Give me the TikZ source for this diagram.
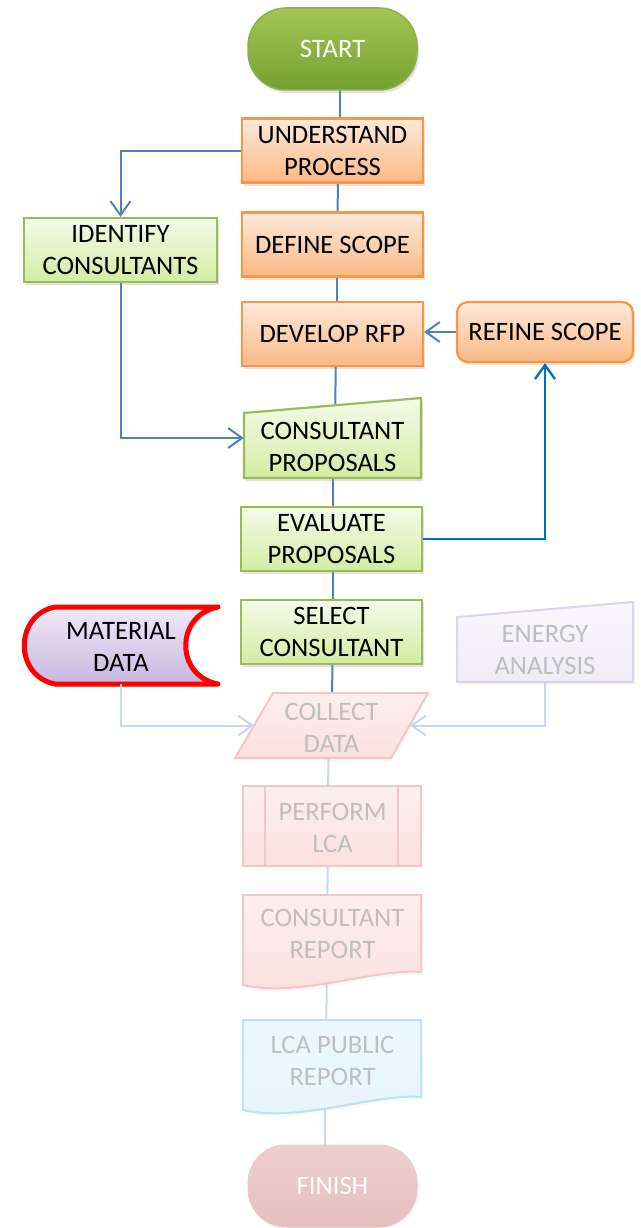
\documentclass[tikz,border=0pt]{standalone}
\usepackage{fontspec}
\setmainfont{Carlito}
\usetikzlibrary{arrows.meta,shadows,calc}
\pgfdeclarelayer{bg}
\pgfsetlayers{bg,main}
\definecolor{oborder}{HTML}{F79646}
\definecolor{otop}{HTML}{FEEADB}
\definecolor{obot}{HTML}{FAB985}
\definecolor{gborder}{HTML}{9BBB59}
\definecolor{gtop}{HTML}{F5FAEA}
\definecolor{gbot}{HTML}{D3EDA3}
\definecolor{stborder}{HTML}{8DB04B}
\definecolor{sttop}{HTML}{A2C653}
\definecolor{stbot}{HTML}{74A033}
\definecolor{cblue}{HTML}{4F81BD}
\definecolor{cdark}{HTML}{0070C0}
\definecolor{cfade}{HTML}{C6D9EE}
\definecolor{mtop}{HTML}{EFEAF7}
\definecolor{mbot}{HTML}{C7B7E0}
\definecolor{ftxt}{HTML}{BFBFBF}
\definecolor{ptop}{HTML}{FDEFEF}
\definecolor{pbot}{HTML}{FBE0DF}
\definecolor{pborder}{HTML}{F0C8C7}
\definecolor{etop}{HTML}{F9F7FC}
\definecolor{ebot}{HTML}{F0ECF7}
\definecolor{eborder}{HTML}{DDD4EE}
\definecolor{btop}{HTML}{EDF8FD}
\definecolor{bbot}{HTML}{E6F5FB}
\definecolor{bborder}{HTML}{BEE2EF}
\definecolor{fitop}{HTML}{EFCECE}
\definecolor{fibot}{HTML}{E6BEBE}
\definecolor{fiborder}{HTML}{EACBCB}
\newcommand\fsz{\fontsize{26.6}{32}\selectfont}
\tikzset{
  base/.style={align=center, font=\fsz, inner sep=0pt},
  shad/.style={drop shadow={opacity=0.22, shadow xshift=2pt, shadow yshift=-3pt}},
  fshad/.style={drop shadow={opacity=0.06, shadow xshift=2pt, shadow yshift=-3pt}},
  obox/.style={base, draw=oborder, line width=2.2pt, top color=otop, bottom color=obot,
    minimum width=181pt, minimum height=64pt, shad},
  gbox/.style={base, draw=gborder, line width=2.2pt, top color=gtop, bottom color=gbot,
    minimum width=181pt, minimum height=64pt, shad},
  gshape/.style={draw=gborder, line width=2.2pt, top color=gtop, bottom color=gbot, shad},
  pshape/.style={draw=pborder, line width=2pt, top color=ptop, bottom color=pbot, fshad},
  anchorbox/.style={inner sep=0pt},
  ftext/.style={base, text=ftxt},
  conn/.style={draw=cblue, line width=2pt},
  arr/.style={conn, -{Straight Barb[length=14pt,width=20pt]}},
  fconn/.style={draw=cfade, line width=2pt},
  farr/.style={fconn, -{Straight Barb[length=14pt,width=20pt]}},
}
\begin{document}
\begin{tikzpicture}[x=1pt,y=-1pt]
\useasboundingbox (0,0) rectangle (640,1228);

% ---- main column
\node[base, draw=stborder, line width=1.5pt, top color=sttop, bottom color=stbot,
  rounded corners=38pt, minimum width=169pt, minimum height=82pt, text=white, shad]
  (start) at (332.5,49) {START};
\node[obox] (understand) at (332.5,150.5) {UNDERSTAND\\PROCESS};
\node[obox] (define) at (332.5,244.5) {DEFINE SCOPE};
\node[obox] (develop) at (332.5,334) {DEVELOP RFP};
\node[obox, rounded corners=11pt, minimum width=176pt, minimum height=60pt]
  (refine) at (545,332) {REFINE SCOPE};
\node[gbox, minimum width=193pt] (identify) at (120.5,250) {IDENTIFY\\CONSULTANTS};

% consultant proposals (manual input)
\path[gshape] (244,413) -- (421,398) -- (421,478) -- (244,478) -- cycle;
\node[anchorbox, minimum width=177pt, minimum height=80pt] (props) at (332.5,438) {};
\node[base] (propsT) at (332.5,447) {CONSULTANT\\PROPOSALS};

\node[gbox] (evaluate) at (331.5,539) {EVALUATE\\PROPOSALS};
\node[gbox] (select) at (331.5,632) {SELECT\\CONSULTANT};

% material data (stored data)
\path[draw=red, line width=5pt, line join=round, line cap=round,
  top color=mtop, bottom color=mbot, shad]
  (55,607) -- (218,607) .. controls (175,615) and (175,676) .. (218,684)
  -- (55,684) .. controls (14,676) and (14,615) .. (55,607) -- cycle;
\node[anchorbox, minimum width=194pt, minimum height=77pt] (material) at (121,645.5) {};
\node[base] (materialT) at (121,647) {MATERIAL\\DATA};

% energy analysis (manual input, faded)
\path[draw=eborder, line width=2pt, top color=etop, bottom color=ebot, fshad]
  (457,617) -- (633,602) -- (633,682) -- (457,682) -- cycle;
\node[anchorbox, minimum width=176pt, minimum height=80pt] (energy) at (545,642) {};
\node[ftext] (energyT) at (545,650) {ENERGY\\ANALYSIS};

% collect data (parallelogram, faded)
\path[pshape] (273,693) -- (428,693) -- (391,758) -- (235,758) -- cycle;
\node[anchorbox, minimum width=156pt, minimum height=65pt] (collect) at (332,725.5) {};
\node[ftext] (collectT) at (331.5,728) {COLLECT\\DATA};

% perform LCA (predefined process, faded)
\node[base, text=ftxt, draw=pborder, line width=2pt, top color=ptop, bottom color=pbot,
  minimum width=178pt, minimum height=80pt, fshad] (perform) at (332,826) {};
\draw[pborder, line width=2pt] (265,787) -- (265,865) (398,787) -- (398,865);
\node[ftext] (performT) at (332.5,828) {PERFORM\\LCA};

% consultant report (document, faded)
\path[pshape] (243,895) -- (421,895) -- (421,972)
  .. controls (375,968) and (300,998) .. (243,985) -- cycle;
\node[anchorbox, minimum width=178pt, minimum height=90pt] (report) at (332,940) {};
\node[ftext] (reportT) at (332.5,934) {CONSULTANT\\REPORT};

% LCA public report (document, faded blue)
\path[draw=bborder, line width=2pt, top color=btop, bottom color=bbot, fshad]
  (243,1020) -- (421,1020) -- (421,1097)
  .. controls (375,1093) and (300,1123) .. (243,1110) -- cycle;
\node[anchorbox, minimum width=178pt, minimum height=90pt] (public) at (332,1065) {};
\node[ftext] (publicT) at (332.5,1060.5) {LCA PUBLIC\\REPORT};

% finish
\node[base, draw=fiborder, line width=1pt, top color=fitop, bottom color=fibot,
  rounded corners=38pt, minimum width=169pt, minimum height=82pt, text=white, fshad]
  (finish) at (332.5,1186) {FINISH};

% ---- plain connectors (behind shapes)
\begin{pgfonlayer}{bg}
\draw[conn] ([xshift=7.5pt]start.center) -- ([xshift=7.5pt]understand.center);
\draw[conn] ([xshift=5.5pt]understand.center) -- ([xshift=5pt]define.center);
\draw[conn] ([xshift=4.5pt]define.center) -- ([xshift=4.5pt]develop.center);
\draw[conn] ([xshift=3.5pt]develop.center) -- ([xshift=2.5pt]props.center);
\draw[conn] ([xshift=0.5pt]props.center) -- ([xshift=1.5pt]evaluate.center);
\draw[conn] ([xshift=1.5pt]evaluate.center) -- ([xshift=1.5pt]select.center);
\draw[conn] ([xshift=1pt]select.center) -- ([xshift=0pt]collect.center);
\draw[fconn] ([xshift=-3.5pt]collect.center) -- ([xshift=-4pt]perform.center);
\draw[fconn] ([xshift=-4pt]perform.center) -- ([xshift=-5pt]report.center);
\draw[fconn] ([xshift=-5pt]report.center) -- ([xshift=-6pt]public.center);
\draw[fconn] ([xshift=-7pt]public.center) -- ([xshift=-7.5pt]finish.center);
\end{pgfonlayer}

% ---- arrows
\draw[arr] (understand.west) -| (identify.north);
\draw[arr] (identify.south) |- (props.west);
\draw[arr, draw=cdark, line width=2.3pt] (evaluate.east) -| (refine.south);
\draw[arr] (refine.west) -- (refine.west -| develop.east);
\draw[farr] (material.south) |- (collect.west);
\draw[farr] (energy.south) |- (collect.east);
\end{tikzpicture}
\end{document}
